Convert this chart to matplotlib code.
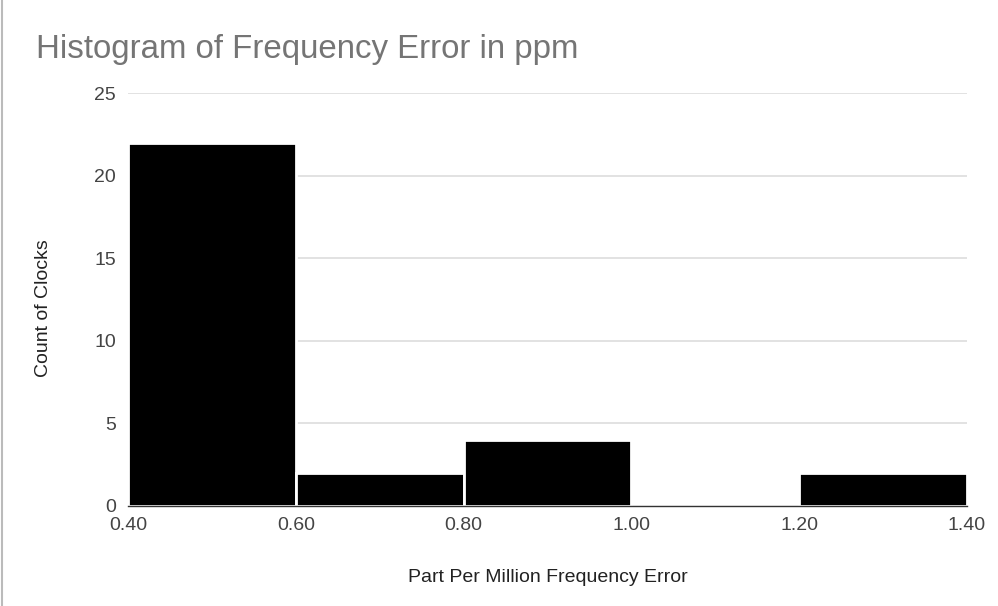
import matplotlib.pyplot as plt
from matplotlib.lines import Line2D

# histogram bins and counts
bin_edges = [0.40, 0.60, 0.80, 1.00, 1.20, 1.40]
counts = [22, 2, 4, 0, 2]
x_ticks = [0.40, 0.60, 0.80, 1.00, 1.20, 1.40]
y_ticks = [0, 5, 10, 15, 20, 25]

plt.rcParams['font.family'] = ['Liberation Sans', 'DejaVu Sans']

fig = plt.figure(figsize=(9.98, 6.06), dpi=100)
ax = fig.add_axes([128/998, 1 - 506/606, (967 - 128)/998, (506 - 93)/606])

widths = [bin_edges[i + 1] - bin_edges[i] for i in range(len(counts))]
ax.bar(bin_edges[:-1], counts, width=widths, align='edge', color='black',
       edgecolor='white', linewidth=2, zorder=3)

ax.set_xlim(0.40, 1.40)
ax.set_ylim(0, 25)
ax.set_xticks(x_ticks)
ax.set_xticklabels([f"{v:.2f}" for v in x_ticks])
ax.set_yticks(y_ticks)
ax.tick_params(length=0, labelsize=14, labelcolor='#444444')
ax.tick_params(axis='x', pad=8)
ax.tick_params(axis='y', pad=8.5)
ax.grid(axis='y', color='#dddddd', linewidth=1.2, zorder=0)
for s in ['top', 'right', 'left']:
    ax.spines[s].set_visible(False)
ax.spines['bottom'].set_color('#333333')
ax.spines['bottom'].set_linewidth(1)
ax.spines['bottom'].set_zorder(4)

ax.set_xlabel("Part Per Million Frequency Error", fontsize=14, color='#222222', labelpad=25)
ax.set_ylabel("Count of Clocks", fontsize=14, color='#222222')
ax.yaxis.set_label_coords(-0.091, 0.48)

fig.text(36/998, 1 - 58/606, "Histogram of Frequency Error in ppm", fontsize=23.8,
         color='#757575', ha='left', va='baseline')

fig.add_artist(Line2D([2/998, 2/998], [0, 1], color='#bbbbbb', linewidth=1.5))

fig.savefig("out.png", dpi=100, facecolor='white')
